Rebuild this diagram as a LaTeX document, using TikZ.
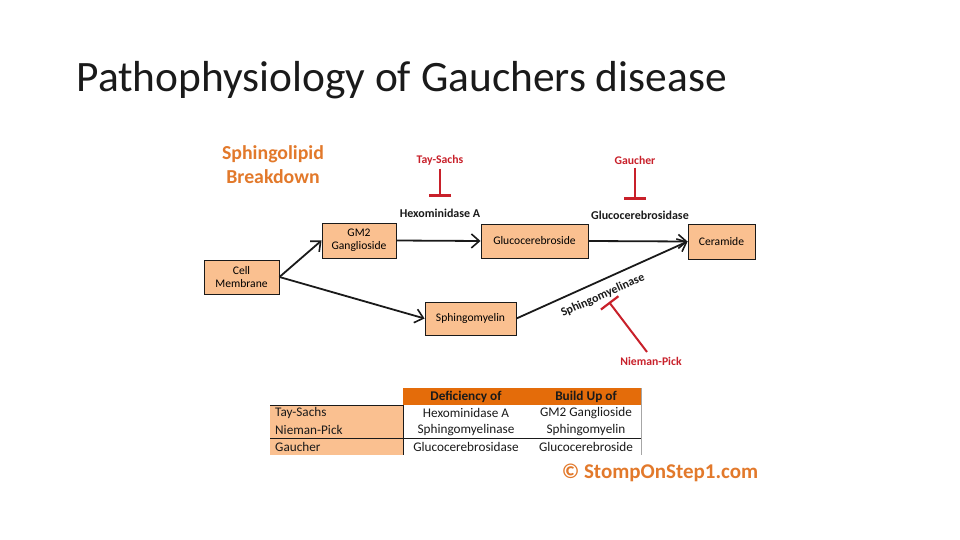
\documentclass[tikz,border=0pt]{standalone}
\usepackage{fontspec}
\setmainfont{Carlito}
\usepackage{xcolor}
\usepackage{tikz}
\usetikzlibrary{positioning,arrows.meta,calc}
\definecolor{salmon}{HTML}{FAC090}
\definecolor{hdr}{HTML}{E46C0A}
\definecolor{brand}{HTML}{E2792B}
\definecolor{block}{HTML}{C8202A}
\definecolor{ink}{HTML}{1A1A1A}

\begin{document}
\begin{tikzpicture}[x=1pt, y=-1pt,
  lipid/.style={rectangle, draw=ink, line width=0.9pt, fill=salmon, align=center, inner sep=1pt, font=\fontsize{11.6}{13}\selectfont},
  enz/.style={font=\bfseries\fontsize{12}{13}\selectfont, text=ink},
  dis/.style={font=\bfseries\fontsize{11.7}{13}\selectfont, text=block},
  arr/.style={-{Straight Barb[length=8pt,width=14pt,line width=1.6pt]}, line width=1.8pt, ink},
  inhib/.style={-{Bar[width=22pt,line width=2.2pt]}, line width=2pt, block},
  cell/.style={font=\fontsize{13.2}{14}\selectfont, text=ink, inner sep=0pt}]
\useasboundingbox (0,0) rectangle (960,540);

\node[anchor=west, font=\fontsize{43.4}{48}\selectfont, text=ink] (title) at (73,80) {Pathophysiology of Gauchers disease};
\node[align=center, font=\bfseries\fontsize{19.8}{24}\selectfont, text=brand] (heading) at (273,165) {Sphingolipid\\Breakdown};

% pathway
\node[lipid, minimum width=74pt, minimum height=35pt] (gm2) at (359,240.5) {GM2\\Ganglioside};
\node[lipid, minimum width=107pt, minimum height=34pt] (gluco) at (534.5,241) {Glucocerebroside};
\node[lipid, minimum width=67pt, minimum height=35pt] (cer) at (721.5,241.5) {Ceramide};
\node[lipid, minimum width=75pt, minimum height=34pt] (memb) at (241.5,277) {Cell\\Membrane};
\node[lipid, minimum width=91pt, minimum height=33pt] (sm) at (470.5,318.5) {Sphingomyelin};

\draw[arr] (memb.east) -- (gm2.west);
\draw[arr] (memb.east) -- (sm.west);
\draw[arr] (gm2.east) -- (gluco.west);
\draw[arr] (gluco.east) -- (cer.west);
\draw[arr] (sm.east) -- node[below=5pt, sloped, pos=0.47, enz, text=ink] (smase) {Sphingomyelinase} (cer.west);

% enzymes and blocks
\node[enz] (hexa) at (440,213) {Hexominidase A};
\node[dis] (tay) at (440,160) {Tay-Sachs};
\draw[inhib] (tay.south) -- ++(0,28);
\node[enz] (gcase) at (640,215) {Glucocerebrosidase};
\node[dis] (gau) at (635,160) {Gaucher};
\draw[inhib] (gau.south) -- ++(0,32);
\node[dis] (np) at (651,361) {Nieman-Pick};
\coordinate (npbar) at (609,302);
\draw[inhib] (647,352) -- (npbar);

% table
\fill[salmon] (270,405) rectangle (403,455);
\fill[hdr] (403,388) rectangle (641,405);
\draw[ink, line width=0.8pt] (270,405) -- (403,405);
\draw[ink, line width=0.8pt] (270,438) -- (641,438);
\draw[ink, line width=0.8pt] (403,405) -- (403,455);
\draw[gray!70, line width=0.6pt] (641,388) -- (641,455);
\node[cell, font=\bfseries\fontsize{13.3}{14}\selectfont, text=ink] (h1) at (466,397) {Deficiency of};
\node[cell, font=\bfseries\fontsize{13.3}{14}\selectfont, text=ink] (h2) at (586,397) {Build Up of};
\node[cell, anchor=west] (r1) at (275,413) {Tay-Sachs};
\node[cell, anchor=west] (r2) at (275,430) {Nieman-Pick};
\node[cell, anchor=west] (r3) at (275,447) {Gaucher};
\node[cell] (d1) at (466,413) {Hexominidase A};
\node[cell] (d2) at (466,430) {Sphingomyelinase};
\node[cell] (d3) at (466,447) {Glucocerebrosidase};
\node[cell] (b1) at (586,413) {GM2 Ganglioside};
\node[cell] (b2) at (586,430) {Sphingomyelin};
\node[cell] (b3) at (586,447) {Glucocerebroside};

\node[font=\bfseries\fontsize{21}{24}\selectfont, text=brand] (copy) at (660,473) {© StompOnStep1.com};
\end{tikzpicture}
\end{document}
